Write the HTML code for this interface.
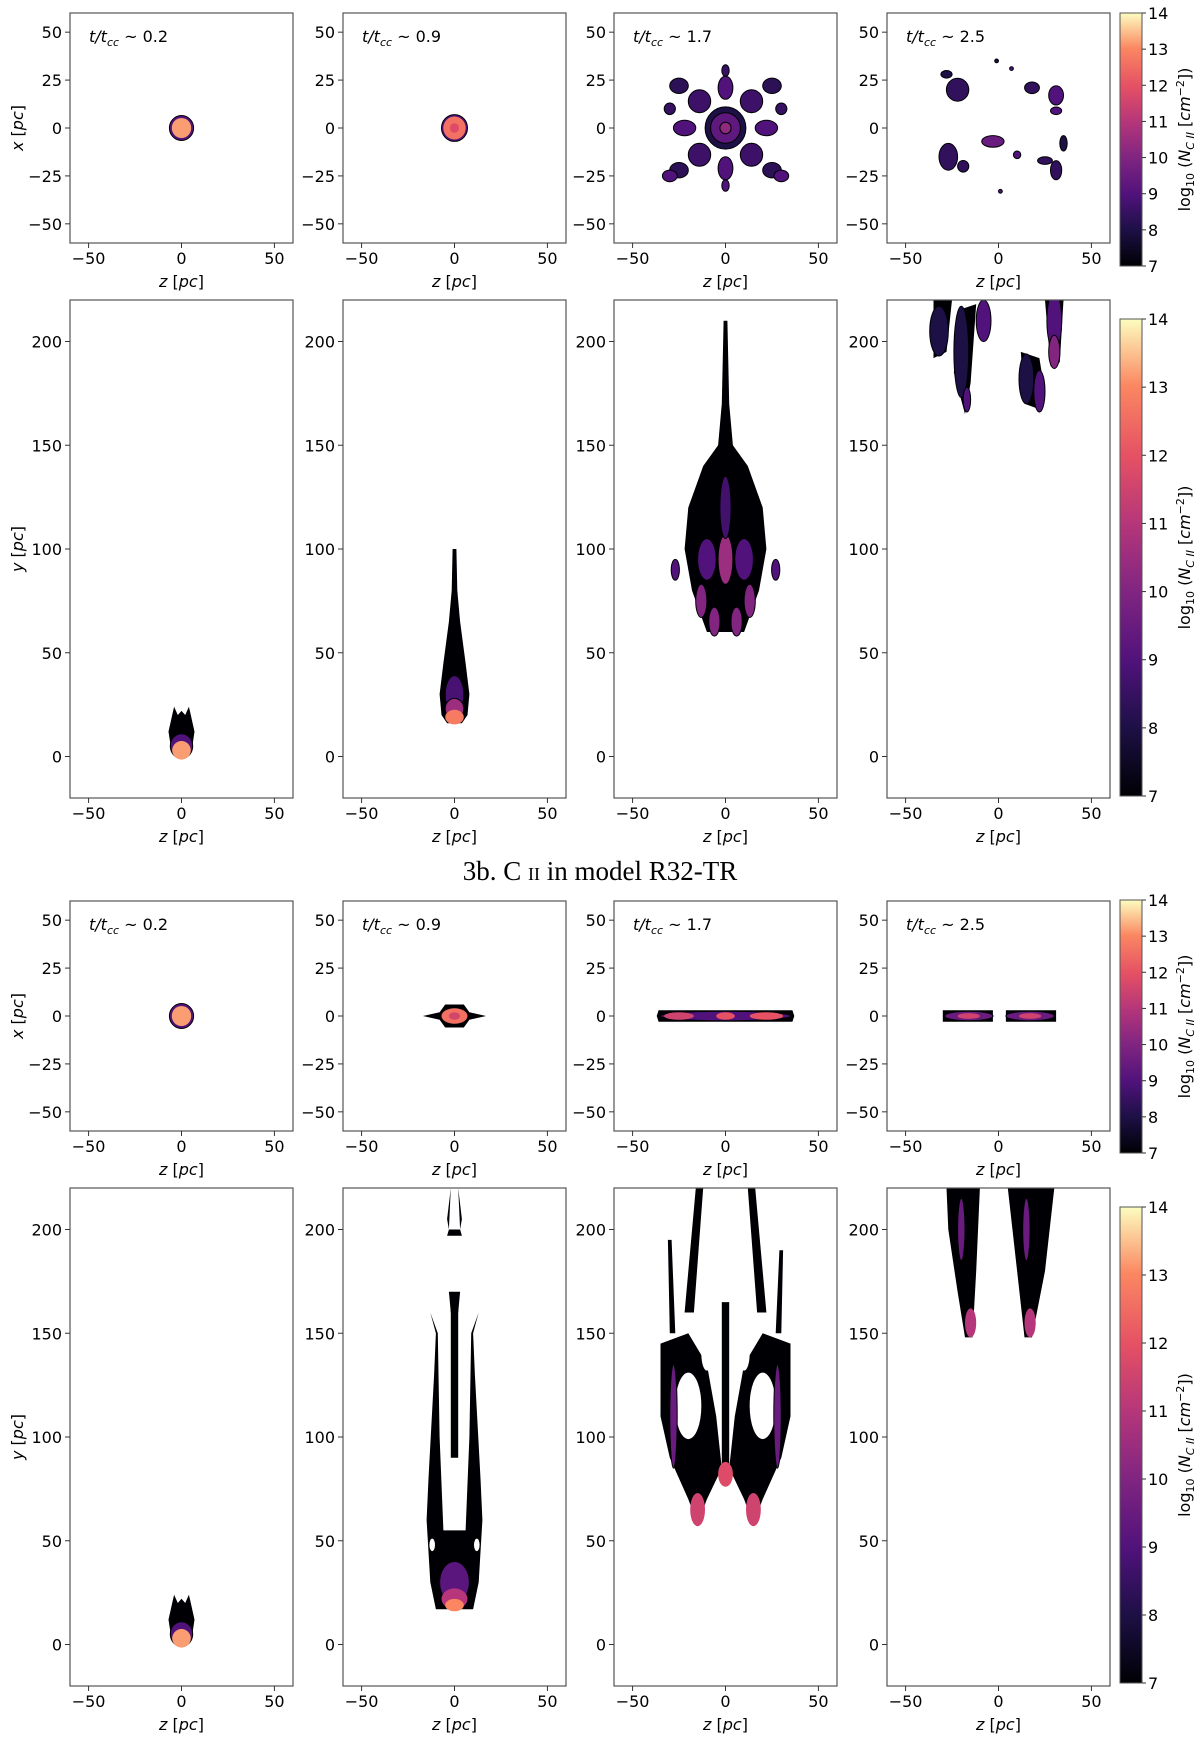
<!DOCTYPE html>
<html><head><meta charset="utf-8"><style>
body{margin:0;background:#fff;}
svg{display:block;font-family:"DejaVu Sans","Liberation Sans",sans-serif;}
</style></head><body>
<svg id="fig" width="1200" height="1738" viewBox="0 0 1200 1738" xmlns="http://www.w3.org/2000/svg">
<defs>
<linearGradient id="magma" x1="0" y1="1" x2="0" y2="0">
<stop offset="0" stop-color="#000004"/><stop offset="0.14" stop-color="#1c1044"/><stop offset="0.28" stop-color="#4f127b"/><stop offset="0.43" stop-color="#812581"/><stop offset="0.57" stop-color="#b5367a"/><stop offset="0.71" stop-color="#e55064"/><stop offset="0.86" stop-color="#fb8761"/><stop offset="1" stop-color="#fcfdbf"/>
</linearGradient>
</defs>
<text x="600" y="880" text-anchor="middle" font-family="Liberation Serif, serif" font-size="27">3b. C <tspan font-size="18">II</tspan> in model R32-TR</text>
</svg>
<script>
const colLefts=[70,343,614,887];
const panelW=223;
const rowTops=[13,300,901,1188];
const rowBottoms=[243,798,1131,1686];
const rowYmin=[-60,-20,-60,-20];
const rowYmax=[60,220,60,220];
const zTicks=[-50,0,50];
const yTicksSquare=[-50,-25,0,25,50];
const yTicksTall=[0,50,100,150,200];
const timeLabels=["0.2","0.9","1.7","2.5"];
const cbTicks=[7,8,9,10,11,12,13,14];
const cbTops=[13,319,900,1207];
const cbBottoms=[266,796,1153,1683];

// blobs: [z, y, rz, ry, log10 N]
const blobs={
"0-0":[[0,0,6.5,6.5,9],[0,0,5.2,5.2,13.2]],
"0-1":[[0,0,7,7,9],[0,0,6,6,12.6],[0,0,2.5,2.5,11.8]],
"0-2":[[0,0,11,11,8],[0,0,8,8,9.3],[0,0,3,3,10.3],[-14,14,6,6,8.6],[14,14,6,6,8.6],[-14,-14,6,6,8.6],[14,-14,6,6,8.6],[-25,22,5,4,8.3],[25,22,5,4,8.3],[-25,-22,5,4,8.3],[25,-22,5,4,8.3],[0,21,4,6,9],[0,-21,4,6,9],[-22,0,6,4,9],[22,0,6,4,9],[-30,-25,4,3,9],[30,-25,4,3,9],[0,-30,2,3,9],[0,30,2,3,8.5],[-30,10,3,3,8.5],[30,10,3,3,8.5]],
"0-3":[[-22,20,6,6,8.4],[-28,28,3,2,8],[18,21,4,3,8.4],[31,17,4,5,9],[31,9,3,2,9],[-3,-7,6,3,9.5],[-27,-15,5,7,8.4],[-19,-20,3,3,8.4],[10,-14,2,2,9],[25,-17,4,2,8.4],[31,-22,3,5,8.4],[35,-8,2,4,8],[1,-33,1,1,9],[-1,35,1,1,8],[7,31,1,1,9]],
"1-0":[[0,5,6,6,9],[0,3,5,4.5,13.2]],
"1-1":[[0,30,5,9,8.8],[0,23,5,5,10.5],[0,19,5,3.5,12.8]],
"1-2":[[0,95,4,12,10.5],[-10,95,5,10,9],[10,95,5,10,9],[-13,75,3,8,10],[13,75,3,8,10],[-6,65,3,7,10],[6,65,3,7,10],[-27,90,2.2,5,9],[27,90,2.2,5,9],[0,120,3,15,8.7]],
"1-3":[[-32,205,5,12,8],[-20,195,4,22,8],[-17,172,2,6,9],[-8,210,4,10,9],[15,182,4,12,8],[22,176,3,10,9],[30,210,4,14,9],[30,195,3,8,10]],
"2-0":[[0,0,6.5,6.5,9],[0,0,5.2,5.2,13.2]],
"2-1":[[0,0,7,4,12.6],[0,0,3,2,11.6]],
"2-2":[[0,0,35,2.5,9],[-25,0,8,2,11.5],[0,0,5,2,12],[22,0,9,2,12]],
"2-3":[[-16,0,13,2.5,9.5],[-16,0,6,1.5,11.5],[17,0,13,2.5,9.5],[17,0,6,1.5,11.5]],
"3-0":[[0,5,6,6,9],[0,3,5,4.5,13.2]],
"3-1":[[0,30,8,10,9.2],[0,22,7,5,11],[0,19,5,3,13]],
"3-2":[[-15,65,4,8,11.5],[15,65,4,8,11.5],[0,82,4,6,11.8],[-28,110,2,25,9.5],[28,110,2,25,9.5]],
"3-3":[[-15,155,3,7,11],[17,155,3,7,11],[-20,200,2,15,9.5],[15,200,2,15,9.5]]
};
// polygons: [value, [z,y,...]]
const polys={
"1-0":[[7,[-6,6,-7,12,-5,20,-4,24,-2,20,0,22,2,20,4,24,5,20,7,12,6,6,0,0]]],
"1-1":[[7,[-1,100,1,100,1.5,80,3,65,6,45,8,30,7,20,4,16,-4,16,-7,20,-8,30,-6,45,-3,65,-1.5,80]]],
"1-2":[[7,[-1,210,1,210,2,170,4,150,12,140,20,120,22,100,18,80,10,60,-10,60,-18,80,-22,100,-20,120,-12,140,-4,150,-2,170]]],
"1-3":[[7,[-35,220,-25,220,-28,195,-35,192]],[7,[-22,215,-12,218,-15,180,-18,165,-24,185]],[7,[12,195,22,192,25,175,20,168,14,170]],[7,[25,220,35,220,33,190,28,188]]],
"2-1":[[7,[-17,0,-8,2,-5,6,5,6,8,2,17,0,8,-2,5,-6,-5,-6,-8,-2]]],
"2-2":[[7,[-36,3,36,3,37,0,36,-3,-36,-3,-37,0]]],
"2-3":[[7,[-30,3,-3,3,-3,-3,-30,-3]],[7,[4,3,31,3,31,-3,4,-3]]],
"3-0":[[7,[-6,6,-7,12,-5,20,-4,24,-2,20,0,22,2,20,4,24,5,20,7,12,6,6,0,0]]],
"3-1":[[7,[-15,60,-14,80,-11,130,-10,150,-13,160,-9,150,-8,100,-6,55,6,55,8,100,9,150,13,160,10,150,11,130,14,80,15,60,13,30,10,17,-10,17,-13,30]],[7,[-2,90,2,90,2,165,-2,165]],[7,[-3,170,3,170,2,160,-2,160]],[7,[-4,205,-2,220,-3,200]],[7,[4,205,2,220,3,200]],[7,[-4,197,4,197,3,200,-3,200]]],
"3-2":[[7,[-35,145,-20,150,-10,135,-5,110,-2,85,-10,70,-15,58,-20,70,-30,90,-35,110]],[7,[35,145,20,150,10,135,5,110,2,85,10,70,15,58,20,70,30,90,35,110]],[7,[-2,165,2,165,2,80,-2,80]],[7,[-22,160,-17,160,-12,220,-16,220]],[7,[17,160,22,160,16,220,12,220]],[7,[-30,150,-27,150,-29,195,-31,195]],[7,[27,150,30,150,31,190,29,190]]],
"3-3":[[7,[-28,220,-10,220,-12,180,-14,148,-18,148,-22,170,-27,200]],[7,[5,220,30,220,25,180,18,148,14,148,10,180]]]
};
const holes={"3-2":[[-20,115,7,16],[20,115,7,16],[-10,140,3,8],[10,140,3,8]],"3-1":[[-12,48,1.5,3],[12,48,1.5,3]]};

const stops=[[0,[0,0,4]],[0.14,[28,16,68]],[0.28,[79,18,123]],[0.43,[129,37,129]],[0.57,[181,54,122]],[0.71,[229,80,100]],[0.86,[251,135,97]],[1,[252,253,191]]];
function magma(v){let t=Math.max(0,Math.min(1,(v-7)/7));for(let i=1;i<stops.length;i++){if(t<=stops[i][0]){const a=stops[i-1],b=stops[i];const f=(t-a[0])/(b[0]-a[0]);const c=a[1].map((x,k)=>Math.round(x+(b[1][k]-x)*f));return `rgb(${c})`;}}return "rgb(252,253,191)";}
const NS="http://www.w3.org/2000/svg";
const fig=document.getElementById('fig');
function mk(tag,attrs,parent){const e=document.createElementNS(NS,tag);for(const k in attrs)e.setAttribute(k,attrs[k]);(parent||fig).appendChild(e);return e;}

for(let r=0;r<4;r++){
  const top=rowTops[r],bot=rowBottoms[r],ymin=rowYmin[r],ymax=rowYmax[r];
  const ys=v=>bot-(v-ymin)/(ymax-ymin)*(bot-top);
  const yticks=(r%2===0)?yTicksSquare:yTicksTall;
  for(let c=0;c<4;c++){
    const L=colLefts[c];
    const xs=v=>L+(v+60)/120*panelW;
    const g=mk('g',{});
    
    
    const clip=mk('clipPath',{id:'cp'+r+c},g);
    mk('rect',{x:L,y:top,width:panelW,height:bot-top},clip);
    const img=mk('g',{'clip-path':'url(#cp'+r+c+')'},g);
    
    
    const key=r+'-'+c;
    (polys[key]||[]).forEach(p=>{
      const pts=[];for(let i=0;i<p[1].length;i+=2)pts.push(xs(p[1][i]).toFixed(1)+','+ys(p[1][i+1]).toFixed(1));
      const pe=mk('polygon',{points:pts.join(' '),fill:magma(p[0])},img);
      
      
    });
    (holes[key]||[]).forEach(h=>{mk('ellipse',{cx:xs(h[0]),cy:ys(h[1]),rx:h[2]*panelW/120,ry:h[3]*(bot-top)/(ymax-ymin),fill:'#fff'},img);});
    (blobs[key]||[]).forEach(b=>{
      const e=mk('ellipse',{cx:xs(b[0]).toFixed(1),cy:ys(b[1]).toFixed(1),rx:(b[2]*panelW/120).toFixed(1),ry:(b[3]*(bot-top)/(ymax-ymin)).toFixed(1),fill:magma(b[4]),stroke:(b[4]>10.5?'none':'#000004'),'stroke-width':1},img);
      
      
    });
    const frame=mk('rect',{x:L,y:top,width:panelW,height:bot-top,fill:'none',stroke:'#555','stroke-width':1.2},g);
    
    
    zTicks.forEach(t=>{
      mk('line',{x1:xs(t),x2:xs(t),y1:bot,y2:bot+5,stroke:'#333'},g);
      const tx=mk('text',{x:xs(t),y:bot+21,'text-anchor':'middle','font-size':16},g);
      tx.textContent=t<0?'\u2212'+(-t):''+t;
      
      
    });
    yticks.forEach(t=>{
      mk('line',{x1:L-5,x2:L,y1:ys(t),y2:ys(t),stroke:'#333'},g);
      const tx=mk('text',{x:L-8,y:ys(t)+6,'text-anchor':'end','font-size':16},g);
      tx.textContent=t<0?'\u2212'+(-t):''+t;
      
      
    });
    const xl=mk('text',{x:L+panelW/2,y:bot+44,'text-anchor':'middle','font-size':16},g);
    xl.innerHTML='<tspan font-style="italic">z</tspan> [<tspan font-style="italic">pc</tspan>]';
    
    
    if(c===0){
      const yl=mk('text',{x:0,y:0,'text-anchor':'middle','font-size':16,transform:`translate(23,${(top+bot)/2}) rotate(-90)`},g);
      yl.innerHTML='<tspan font-style="italic">'+(r%2===0?'x':'y')+'</tspan> [<tspan font-style="italic">pc</tspan>]';
      
      
    }
    if(r%2===0){
      const tl=mk('text',{x:L+19,y:top+29,'font-size':16},g);
      tl.innerHTML='<tspan font-style="italic">t/t</tspan><tspan font-style="italic" font-size="11" dy="4">cc</tspan><tspan dy="-4"> ~ '+timeLabels[c]+'</tspan>';
      
      
    }
  }
  const ct=cbTops[r],cb=cbBottoms[r];
  const cg=mk('g',{});
  
  
  mk('rect',{x:1120,y:ct,width:22,height:cb-ct,fill:'url(#magma)',stroke:'#555','stroke-width':1},cg);
  cbTicks.forEach(t=>{
    const y=cb-(t-7)/7*(cb-ct);
    mk('line',{x1:1142,x2:1146,y1:y,y2:y,stroke:'#333'},cg);
    const tx=mk('text',{x:1148,y:y+6,'font-size':16},cg);
    tx.textContent=t;
    
    
  });
  const cl=mk('text',{x:0,y:0,'text-anchor':'middle','font-size':16,transform:`translate(1190,${(ct+cb)/2}) rotate(-90)`},cg);
  cl.innerHTML='log<tspan font-size="11" dy="4">10</tspan><tspan dy="-4"> (</tspan><tspan font-style="italic">N</tspan><tspan font-style="italic" font-size="11" dy="4">C II</tspan><tspan dy="-4"> [</tspan><tspan font-style="italic">cm</tspan><tspan font-size="11" dy="-6">\u22122</tspan><tspan dy="6">])</tspan>';
  
  
}
</script>
</body></html>
